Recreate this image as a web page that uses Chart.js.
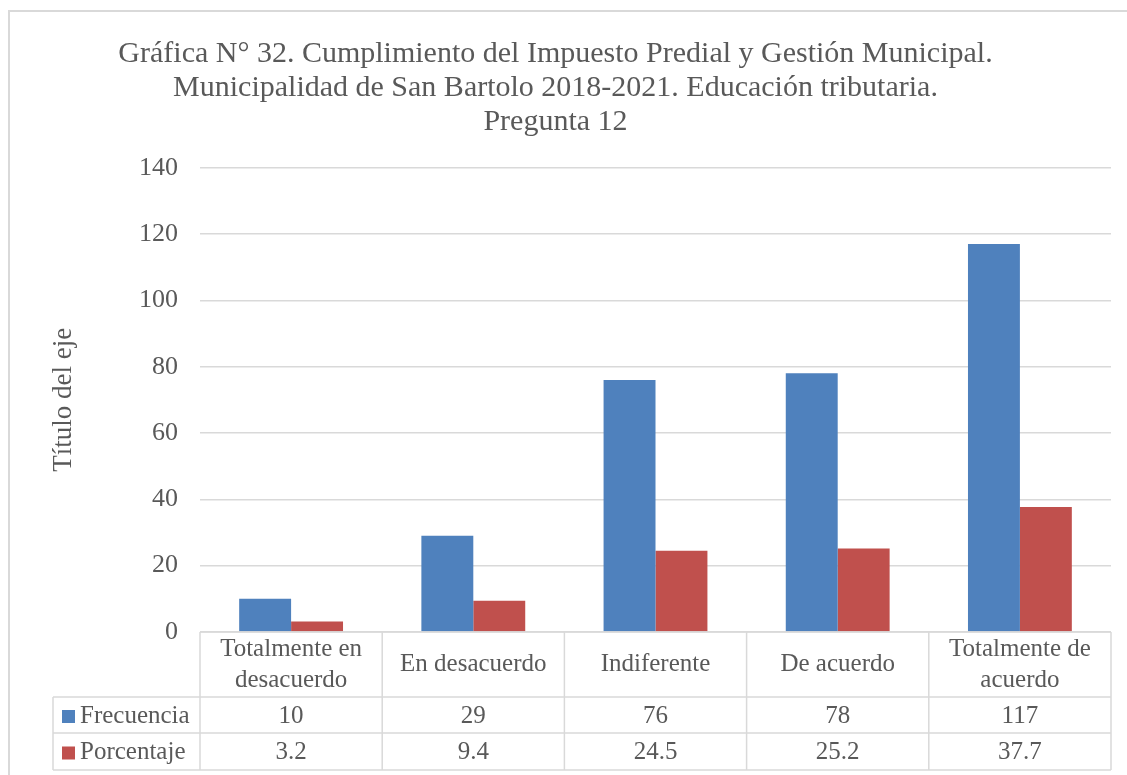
<!DOCTYPE html>
<html>
<head>
<meta charset="utf-8">
<script src="https://cdn.jsdelivr.net/npm/chart.js@4.4.1/dist/chart.umd.min.js"></script>
<style>
  html, body { margin: 0; padding: 0; background: #fff; }
  #wrap { width: 1127px; height: 775px; }
</style>
</head>
<body>
<div id="wrap"><canvas id="chart" width="1127" height="775"></canvas></div>
<script>
var categories = [
    ['Totalmente en', 'desacuerdo'],
    ['En desacuerdo'],
    ['Indiferente'],
    ['De acuerdo'],
    ['Totalmente de', 'acuerdo']
];
var frecuencia = [10, 29, 76, 78, 117];
var porcentaje = [3.2, 9.4, 24.5, 25.2, 37.7];
var porcentajeLabels = ['3.2', '9.4', '24.5', '25.2', '37.7'];
var seriesNames = ['Frecuencia', 'Porcentaje'];
var seriesColors = ['#4F81BD', '#C0504D'];
var titleLines = [
    'Gráfica N° 32. Cumplimiento del Impuesto Predial y Gestión Municipal.',
    'Municipalidad de San Bartolo 2018-2021. Educación tributaria.',
    'Pregunta 12'
];

var FONT = '"Liberation Serif", "DejaVu Serif", serif';
var TEXT = '#595959';
var LINE = '#d9d9d9';

// frame round the chart, like the office chart border
var framePlugin = {
    id: 'frame',
    beforeDraw: function (chart) {
        var ctx = chart.ctx;
        ctx.save();
        ctx.strokeStyle = LINE;
        ctx.lineWidth = 2;
        ctx.beginPath();
        ctx.moveTo(9, chart.height);
        ctx.lineTo(9, 11);
        ctx.lineTo(chart.width, 11);
        ctx.stroke();
        ctx.restore();
    }
};

// data table under the plot, columns taken from the x scale
var tablePlugin = {
    id: 'dataTable',
    afterDraw: function (chart) {
        var ctx = chart.ctx;
        var area = chart.chartArea;
        var xs = chart.scales.x;
        var half = (area.right - area.left) / categories.length / 2;
        var top = area.bottom;
        var rows = [top, top + 65, top + 101, top + 138];
        var legendLeft = 53;

        ctx.save();
        ctx.strokeStyle = LINE;
        ctx.lineWidth = 1.5;
        ctx.beginPath();
        ctx.moveTo(area.left, rows[0]); ctx.lineTo(area.right, rows[0]);
        for (var r = 1; r < rows.length; r++) {
            ctx.moveTo(legendLeft, rows[r]); ctx.lineTo(area.right, rows[r]);
        }
        ctx.moveTo(legendLeft, rows[1]); ctx.lineTo(legendLeft, rows[3]);
        for (var i = 0; i < categories.length; i++) {
            var l = xs.getPixelForValue(i) - half;
            ctx.moveTo(l, rows[0]); ctx.lineTo(l, rows[3]);
        }
        ctx.moveTo(area.right, rows[0]); ctx.lineTo(area.right, rows[3]);
        ctx.stroke();

        ctx.fillStyle = TEXT;
        ctx.font = '25px ' + FONT;
        ctx.textAlign = 'center';
        ctx.textBaseline = 'middle';
        categories.forEach(function (lines, i) {
            var cx = xs.getPixelForValue(i);
            var mid = (rows[0] + rows[1]) / 2;
            var lh = 31;
            lines.forEach(function (t, k) {
                ctx.fillText(t, cx, mid + (k - (lines.length - 1) / 2) * lh);
            });
        });
        var rowValues = [frecuencia.map(String), porcentajeLabels];
        rowValues.forEach(function (vals, r) {
            var mid = (rows[r + 1] + rows[r + 2]) / 2 + 1;
            vals.forEach(function (v, i) {
                ctx.fillText(v, xs.getPixelForValue(i), mid);
            });
            ctx.fillStyle = seriesColors[r];
            ctx.fillRect(legendLeft + 9, mid - 6, 13, 13);
            ctx.fillStyle = TEXT;
            ctx.textAlign = 'left';
            ctx.fillText(seriesNames[r], legendLeft + 27, mid);
            ctx.textAlign = 'center';
        });
        ctx.restore();
    }
};

new Chart(document.getElementById('chart'), {
    type: 'bar',
    data: {
        labels: categories.map(function (c) { return c.join(' '); }),
        datasets: [
            { label: seriesNames[0], data: frecuencia, backgroundColor: seriesColors[0] },
            { label: seriesNames[1], data: porcentaje, backgroundColor: seriesColors[1] }
        ]
    },
    options: {
        responsive: false,
        animation: false,
        layout: { padding: { left: 0, right: 16, top: 0, bottom: 143 } },
        datasets: { bar: { barPercentage: 1, categoryPercentage: 0.57 } },
        plugins: {
            legend: { display: false },
            tooltip: { enabled: false },
            title: {
                display: true,
                text: titleLines,
                color: TEXT,
                font: { family: FONT, size: 30, weight: 'normal', lineHeight: 1.13 },
                padding: { top: 37, bottom: 29 }
            }
        },
        scales: {
            x: { display: false },
            y: {
                min: 0,
                max: 140,
                ticks: { stepSize: 20, color: TEXT, padding: 22, font: { family: FONT, size: 26 } },
                grid: { color: LINE, lineWidth: 1.5, drawTicks: false },
                border: { display: false },
                title: {
                    display: true,
                    text: 'Título del eje',
                    color: TEXT,
                    font: { family: FONT, size: 27 },
                    padding: { top: 48, bottom: 0 }
                },
                afterFit: function (scale) { scale.width = 200; }
            }
        }
    },
    plugins: [framePlugin, tablePlugin]
});
</script>
</body>
</html>
